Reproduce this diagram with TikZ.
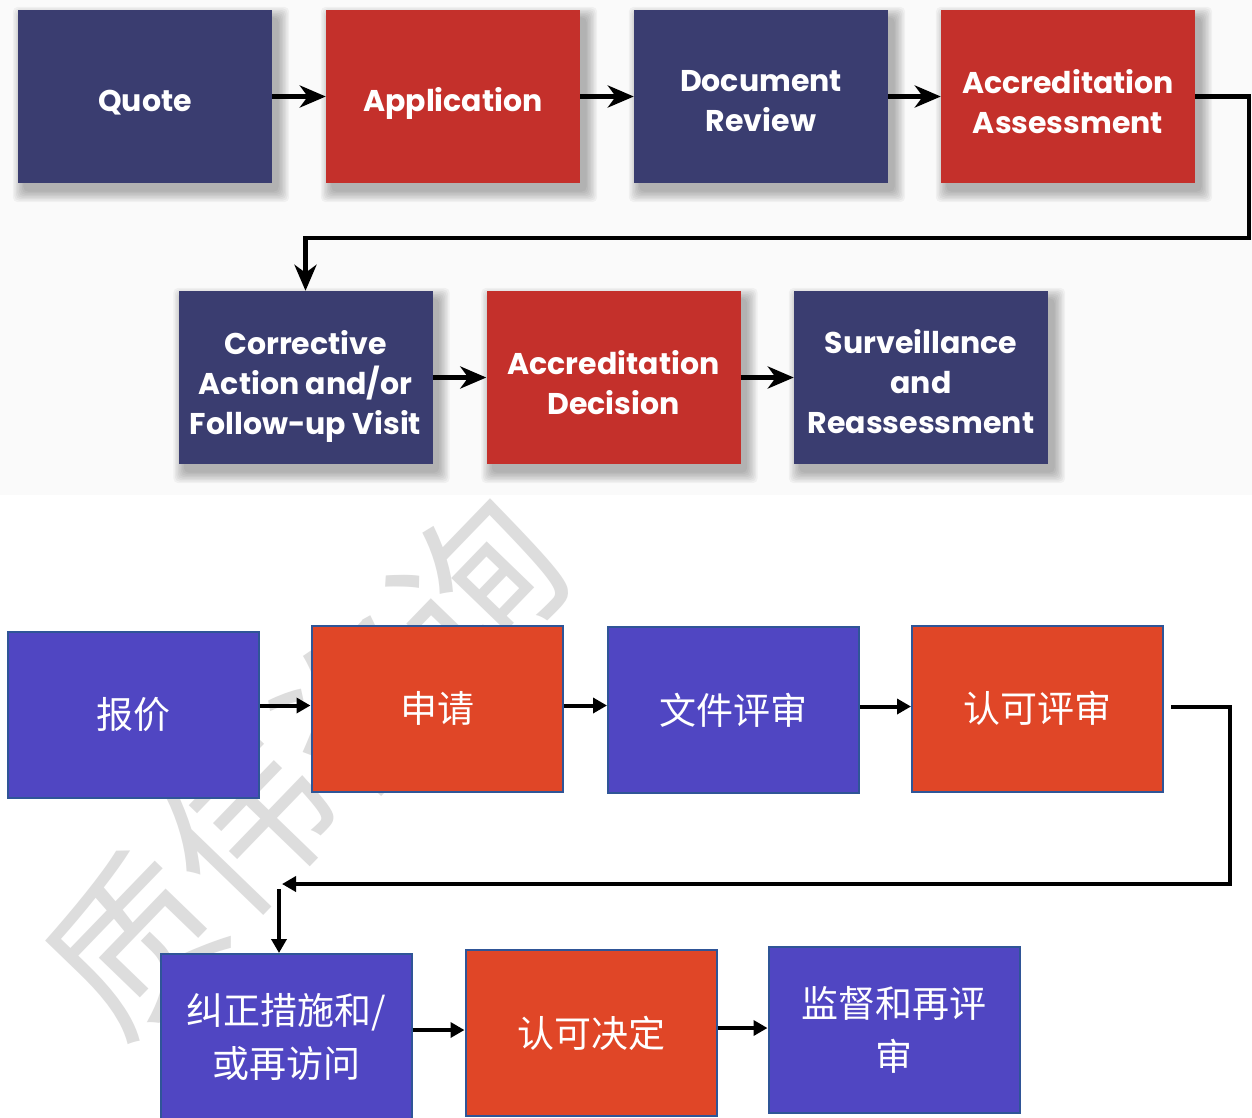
\documentclass[tikz,border=0pt]{standalone}
\usepackage{fontspec}
\setmainfont{Poppins}
\newfontfamily\cjk{Noto Sans CJK SC}
\usetikzlibrary{arrows.meta,calc,backgrounds}
\definecolor{tnavy}{HTML}{3A3D70}
\definecolor{tred}{HTML}{C4302B}
\definecolor{bblue}{HTML}{5046C2}
\definecolor{bred}{HTML}{E04627}
\definecolor{bedge}{HTML}{2F5597}
\definecolor{wmark}{HTML}{DDDDDD}
\definecolor{topbg}{HTML}{FAFAFA}
\begin{document}
\begin{tikzpicture}[x=1pt,y=-1pt,
 topbox/.style={minimum width=254pt,minimum height=173pt,inner sep=0pt},
 tn/.style={topbox,fill=tnavy},
 tr/.style={topbox,fill=tred},
 ttext/.style={align=center,text=white,inner sep=0pt,font=\fontsize{30}{40}\selectfont\bfseries},
 botbox/.style={minimum width=251pt,minimum height=166pt,inner sep=2pt,align=center,text=white,
   draw=bedge,line width=2pt,font=\cjk\fontsize{37}{53}\selectfont},
 bb/.style={botbox,fill=bblue},
 br/.style={botbox,fill=bred},
 shade/.style={fill=black,opacity=0.04,rounded corners=5pt},
 tarrow/.style={line width=4.5pt,-{Stealth[length=26pt,width=22pt,inset=8pt]}},
 barrow/.style={line width=4pt,-{Triangle[length=14pt,width=15pt]}},
]
\useasboundingbox (0,0) rectangle (1252,1117);
% top row 1
\node[tn] (q)   at (145,96.5)  {};
\node[tr] (app) at (453,96.5)  {};
\node[tn] (doc) at (761,96.5)  {};
\node[tr] (aa)  at (1068,96.5) {};
% top row 2
\node[tn] (ca) at (305.5,377.5) {};
\node[tr] (ad) at (613.5,377.5) {};
\node[tn] (sr) at (921,377.5)   {};
\begin{scope}[on background layer]
  \fill[white] (0,0) rectangle (1252,1117);
  % watermark
  \node[text=wmark,rotate=46,font=\cjk\fontsize{165}{165}\selectfont,inner sep=0pt] (wm) at (305,765) {质伟咨询};
  % top background
  \fill[topbg] (0,0) rectangle (1252,495);
  % soft shadows
  \foreach \n in {q,app,doc,aa,ca,ad,sr}{
    \foreach \e in {11,9.5,8,6.5,5,3.5,2,0.5}{
      \fill[shade] ($(\n.north west)+(6-\e,8-\e)$) rectangle ($(\n.south east)+(6+\e,8+\e)$);
    }
  }
\end{scope}
% top texts
\node[ttext] (qt)   at ($(q)+(0,6)$)   {Quote};
\node[ttext] (appt) at ($(app)+(0,7)$) {Application};
\node[ttext] (doct) at ($(doc)+(0,5)$) {Document\\Review};
\node[ttext] (aat)  at ($(aa)+(0,5)$)  {Accreditation\\Assessment};
\node[ttext] (cat)  at ($(ca)+(0,9)$)  {Corrective\\Action and/or\\Follow-up Visit};
\node[ttext] (adt)  at ($(ad)+(0,5)$)  {Accreditation\\Decision};
\node[ttext] (srt)  at ($(sr)+(0,4)$)  {Surveillance\\and\\Reassessment};
\draw[tarrow] (q.east) -- (app.west);
\draw[tarrow] (app.east) -- (doc.west);
\draw[tarrow] (doc.east) -- (aa.west);
\coordinate (tc) at ($(ca.north)+(0,-53)$);
\draw[tarrow] (aa.east) -- ++(54,0) |- (tc) -- (ca.north);
\draw[tarrow] (ca.east) -- (ad.west);
\draw[tarrow] (ad.east) -- (sr.west);
% bottom row 1
\node[bb] (bj) at (133.5,715)  {报价};
\node[br] (sq) at (437,708.5)  {申请};
\node[bb] (wj) at (733.5,710)  {文件评审};
\node[br] (rk) at (1037.5,708.5) {认可评审};
% bottom row 2
\node[bb] (jz)  at (286,1037) {纠正措施和/\\或再访问};
\node[br] (jd)  at (591,1033) {认可决定};
\node[bb] (jdu) at (894,1030) {监督和再评\\审};
\draw[barrow] ([yshift=3pt]bj.east |- sq.west) -- ([yshift=3pt]sq.west);
\draw[barrow] ([yshift=3pt]sq.east) -- ([yshift=3pt]sq.east -| wj.west);
\draw[barrow] ([yshift=2pt]wj.east |- rk.west) -- ([yshift=2pt]rk.west);
\coordinate (lt) at (282,884);
\coordinate (dtop) at (279,889);
\draw[barrow] ([xshift=7pt,yshift=2pt]rk.east) -- ++(59,0) |- (lt);
\draw[barrow] (dtop) -- ([xshift=-7pt]jz.north);
\draw[barrow] ([yshift=3pt]jz.east |- jd.west) -- ([yshift=3pt]jd.west);
\draw[barrow] ([yshift=2pt]jd.east |- jdu.west) -- ([yshift=2pt]jdu.west);
\end{tikzpicture}
\end{document}
